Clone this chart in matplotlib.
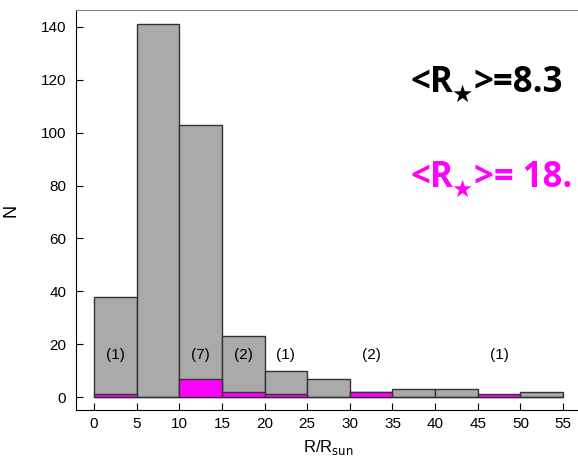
import matplotlib.pyplot as plt
import matplotlib.transforms as mtransforms
import numpy as np

plt.rcParams['font.family'] = ['Liberation Sans', 'DejaVu Sans']

# histogram bins (R/Rsun) and counts
bin_left = [0, 5, 10, 15, 20, 25, 30, 35, 40, 45, 50]
n_all = [38, 141, 103, 23, 10, 7, 2, 3, 3, 0, 2]
n_pink = [1, 0, 7, 2, 1, 0, 2, 0, 0, 1, 0]
count_x = [2.5, 12.5, 17.5, 22.5, 32.5, 47.5]
count_lbl = ['(1)', '(7)', '(2)', '(1)', '(2)', '(1)']

fig = plt.figure(figsize=(5.78, 4.62), dpi=100)
ax = fig.add_axes([76/578, 1 - 410/462, 540/578, 400/462])

ax.bar(bin_left, n_all, width=5, align='edge', color='#aaaaaa',
       edgecolor='#333333', linewidth=1)
ax.bar(bin_left, n_pink, width=5, align='edge', color='#ff00ff',
       edgecolor='#333333', linewidth=1)

for x, s in zip(count_x, count_lbl):
    ax.text(x, 16, s, ha='center', va='center', fontsize=11)

ax.set_xlim(-2.1, 61.2)
ax.set_ylim(-4.9, 146.4)
ax.set_xticks(np.arange(0, 56, 5))
ax.set_yticks(np.arange(0, 141, 20))
ax.tick_params(direction='in', length=5, width=0.8, labelsize=11)
ax.tick_params(axis='y', pad=7)
ax.tick_params(axis='x', pad=5)
ax.spines['right'].set_visible(False)
ax.spines['top'].set_color('#888888')
ax.set_xlabel('R/R$_{\\mathrm{sun}}$', fontsize=12)
ax.xaxis.set_label_coords((328 - 76) / 540, -0.07)
ax.set_ylabel('N', fontsize=13)
ax.yaxis.set_label_coords(-0.105, 0.5)

renderer = fig.canvas.get_renderer()


def mean_label(x, y, value, color):
    # "<R" + subscript star + ">=value", placed piece by piece
    big = dict(fontsize=25, fontweight='bold', family='Open Sans',
               va='baseline', ha='left', color=color)
    t1 = ax.text(x, y, '<R', **big)
    w1 = t1.get_window_extent(renderer).width
    tr = mtransforms.offset_copy(ax.transData, fig=fig, x=w1 - 1, y=-10, units='dots')
    t2 = ax.text(x, y, '\u2605', transform=tr, fontsize=17, family='DejaVu Sans',
                 va='baseline', ha='left', color=color)
    w2 = t2.get_window_extent(renderer).width
    tr = mtransforms.offset_copy(ax.transData, fig=fig, x=w1 + w2, y=0, units='dots')
    ax.text(x, y, '>=' + value, transform=tr, **big)


mean_label(37.06, 115.4, '8.3', 'black')
mean_label(37.06, 79.5, ' 18.', '#ff00ff')

fig.savefig('out.png', dpi=100)
